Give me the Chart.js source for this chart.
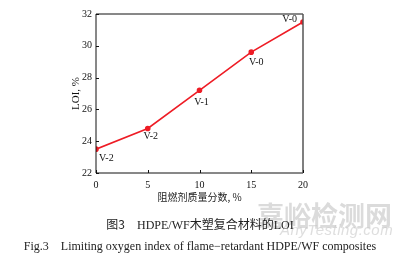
<!DOCTYPE html>
<html><head><meta charset="utf-8">
<script src="https://cdn.jsdelivr.net/npm/chart.js@4"></script>
<style>
html,body{margin:0;padding:0;background:#fff;}
#wrap{position:relative;width:400px;height:258px;overflow:hidden;}
#c{position:absolute;left:0;top:0;}
.cap{position:absolute;white-space:nowrap;color:#222;}
</style></head>
<body><div id="wrap">
<canvas id="c" width="400" height="258"></canvas>
<div class="cap" id="wm1" style="left:257px;top:195px;font-family:'Noto Sans CJK SC';font-weight:bold;font-size:27px;color:rgba(190,190,190,0.55);">嘉峪检测网</div>
<div class="cap" id="wm2" style="left:280px;top:221px;font-family:'Liberation Sans';font-style:italic;font-size:15px;letter-spacing:0.5px;color:rgba(200,200,200,0.6);">AnyTesting.com</div>
<div class="cap" id="cap1" style="left:0;width:400px;text-align:center;top:215px;font-size:12px;"><span style="font-family:'Noto Sans CJK SC'">图3</span>&nbsp;&nbsp;&nbsp;&nbsp;<span style="font-family:'Liberation Serif'">HDPE/WF</span><span style="font-family:'Noto Sans CJK SC'">木塑复合材料的</span><span style="font-family:'Liberation Serif'">LOI</span></div>
<div class="cap" id="cap2" style="left:0;width:400px;text-align:center;top:239px;font-family:'Liberation Serif';font-size:12px;">Fig.3&nbsp;&nbsp;&nbsp;&nbsp;Limiting oxygen index of flame−retardant HDPE/WF composites</div>
</div>
<script>
const contents = [0, 5, 10, 15, 20];
const loiValues = [23.5, 24.8, 27.2, 29.6, 31.5];
const ratings = ['V-2', 'V-2', 'V-1', 'V-0', 'V-0'];
const xTicks = [0, 5, 10, 15, 20];
const yTicks = [22, 24, 26, 28, 30, 32];
const xTitle = '阻燃剂质量分数, %';
const yTitle = 'LOI, %';

const labelOffsets = [[3, 9, 'left'], [3, 8, 'center'], [2, 12, 'center'], [5, 10, 'center'], [-6, -3, 'right']];
const serif = "'Liberation Serif', 'Times New Roman', serif";

const framePlugin = {
  id: 'frame',
  afterDraw(chart) {
    const {ctx, chartArea: a, scales: {x, y}} = chart;
    ctx.save();
    ctx.strokeStyle = '#111';
    ctx.lineWidth = 1;
    ctx.beginPath();
    ctx.moveTo(a.left, a.top); ctx.lineTo(a.right, a.top);
    ctx.moveTo(a.left, a.top); ctx.lineTo(a.left, a.bottom); ctx.lineTo(a.right, a.bottom);
    ctx.stroke();
    ctx.strokeStyle = '#555';
    ctx.lineWidth = 1.5;
    ctx.beginPath(); ctx.moveTo(a.right, a.top); ctx.lineTo(a.right, a.bottom); ctx.stroke();
    ctx.strokeStyle = '#111';
    ctx.lineWidth = 1;
    ctx.beginPath();
    xTicks.forEach(v => { const px = Math.round(x.getPixelForValue(v)) + 0.5; ctx.moveTo(px, a.bottom); ctx.lineTo(px, a.bottom - 3); });
    yTicks.forEach(v => { const py = Math.round(y.getPixelForValue(v)) + 0.5; ctx.moveTo(a.left, py); ctx.lineTo(a.left + 3, py); });
    ctx.stroke();
    ctx.fillStyle = '#111';
    ctx.font = "10px " + serif;
    ctx.textBaseline = 'middle';
    contents.forEach((c, i) => {
      const px = x.getPixelForValue(c), py = y.getPixelForValue(loiValues[i]);
      const o = labelOffsets[i];
      ctx.textAlign = o[2];
      ctx.fillText(ratings[i], px + o[0], py + o[1]);
    });
    ctx.restore();
  }
};

new Chart(document.getElementById('c'), {
  type: 'line',
  data: { datasets: [{
    data: contents.map((c, i) => ({x: c, y: loiValues[i]})),
    borderColor: '#ee1c25', backgroundColor: '#ee1c25', borderWidth: 1.6,
    pointRadius: 2, pointHoverRadius: 2, tension: 0
  }]},
  options: {
    responsive: false, animation: false,
    layout: { padding: { left: 70, right: 97, top: 14, bottom: 56 } },
    plugins: { legend: { display: false }, tooltip: { enabled: false } },
    scales: {
      x: {
        type: 'linear', min: 0, max: 20,
        afterBuildTicks: s => { s.ticks = xTicks.map(v => ({value: v})); },
        afterFit: s => { s.height = 29; },
        grid: { display: false, drawTicks: false },
        border: { display: false },
        ticks: { color: '#111', font: { family: serif, size: 10 }, padding: 6, maxRotation: 0 },
        title: { display: true, text: xTitle, color: '#222', font: { family: "'Noto Sans CJK SC'", size: 10, lineHeight: 1 }, padding: { top: 0, bottom: 0 } }
      },
      y: {
        type: 'linear', min: 22, max: 32,
        afterBuildTicks: s => { s.ticks = yTicks.map(v => ({value: v})); },
        afterFit: s => { s.width = 26; },
        grid: { display: false, drawTicks: false },
        border: { display: false },
        ticks: { color: '#111', font: { family: serif, size: 10 }, padding: 4 },
        title: { display: true, text: yTitle, color: '#111', font: { family: serif, size: 11 }, padding: { top: 0, bottom: 0 } }
      }
    }
  },
  plugins: [framePlugin]
});
</script>
</body></html>
